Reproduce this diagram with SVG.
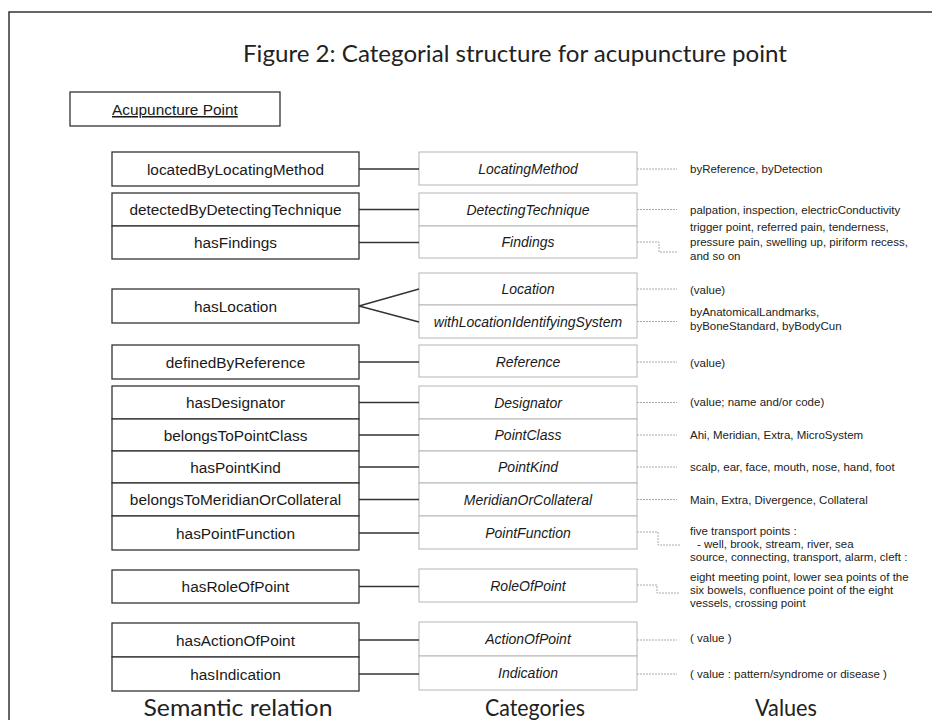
<svg xmlns="http://www.w3.org/2000/svg" width="932" height="720" viewBox="0 0 932 720">
<style>
.frame{fill:none;stroke:#333;stroke-width:1.5}
.rel rect{fill:#fff;stroke:#333;stroke-width:1.3}
.rel text{font-family:"Liberation Sans",Arial,sans-serif;font-size:15.4px;fill:#1a1a1a;text-anchor:middle}
.cat rect{fill:#fff;stroke:#b5b5b5;stroke-width:1}
.cat text{font-family:"Liberation Sans",Arial,sans-serif;font-size:14px;font-style:italic;fill:#1a1a1a;text-anchor:middle}
.val text{font-family:"Liberation Sans",Arial,sans-serif;font-size:11.5px;fill:#222}
.big{font-family:Lato,"Open Sans",sans-serif;font-size:24px;fill:#222}
.solid{fill:none;stroke:#333;stroke-width:1.3}
.dot{fill:none;stroke:#aaa;stroke-width:1;stroke-dasharray:2 1}
</style>
<rect width="932" height="720" fill="#fff"/>
<path class="frame" d="M9,720 V12 H932"/>
<text class="big" x="515" y="62" text-anchor="middle" textLength="544" lengthAdjust="spacingAndGlyphs">Figure 2: Categorial structure for acupuncture point</text>

<g id="acupuncture-point" class="rel">
<rect x="70" y="92" width="210" height="34"/>
<text x="112" y="115" style="text-anchor:start;text-decoration:underline">Acupuncture Point</text>
</g>

<!-- Semantic relations -->
<g id="rel-locatedByLocatingMethod" class="rel"><rect x="112" y="152" width="247" height="34"/><text x="235.5" y="174.5">locatedByLocatingMethod</text></g>
<g id="rel-detectedByDetectingTechnique" class="rel"><rect x="112" y="193" width="247" height="33"/><text x="235.5" y="215">detectedByDetectingTechnique</text></g>
<g id="rel-hasFindings" class="rel"><rect x="112" y="226" width="247" height="33"/><text x="235.5" y="248">hasFindings</text></g>
<g id="rel-hasLocation" class="rel"><rect x="112" y="289" width="247" height="34"/><text x="235.5" y="311.5">hasLocation</text></g>
<g id="rel-definedByReference" class="rel"><rect x="112" y="345" width="247" height="34"/><text x="235.5" y="367.5">definedByReference</text></g>
<g id="rel-hasDesignator" class="rel"><rect x="112" y="386" width="247" height="33"/><text x="235.5" y="408">hasDesignator</text></g>
<g id="rel-belongsToPointClass" class="rel"><rect x="112" y="419" width="247" height="32"/><text x="235.5" y="440.5">belongsToPointClass</text></g>
<g id="rel-hasPointKind" class="rel"><rect x="112" y="451" width="247" height="32"/><text x="235.5" y="472.5">hasPointKind</text></g>
<g id="rel-belongsToMeridianOrCollateral" class="rel"><rect x="112" y="483" width="247" height="33"/><text x="235.5" y="505">belongsToMeridianOrCollateral</text></g>
<g id="rel-hasPointFunction" class="rel"><rect x="112" y="516" width="247" height="34"/><text x="235.5" y="538.5">hasPointFunction</text></g>
<g id="rel-hasRoleOfPoint" class="rel"><rect x="112" y="570" width="247" height="33"/><text x="235.5" y="592">hasRoleOfPoint</text></g>
<g id="rel-hasActionOfPoint" class="rel"><rect x="112" y="623" width="247" height="34"/><text x="235.5" y="645.5">hasActionOfPoint</text></g>
<g id="rel-hasIndication" class="rel"><rect x="112" y="657" width="247" height="34"/><text x="235.5" y="679.5">hasIndication</text></g>

<!-- Categories -->
<g id="cat-LocatingMethod" class="cat"><rect x="419" y="152" width="218" height="33"/><text x="528" y="174">LocatingMethod</text></g>
<g id="cat-DetectingTechnique" class="cat"><rect x="419" y="193" width="218" height="33"/><text x="528" y="214.5">DetectingTechnique</text></g>
<g id="cat-Findings" class="cat"><rect x="419" y="226" width="218" height="32"/><text x="528" y="247">Findings</text></g>
<g id="cat-Location" class="cat"><rect x="419" y="273" width="218" height="32"/><text x="528" y="294">Location</text></g>
<g id="cat-withLocationIdentifyingSystem" class="cat"><rect x="419" y="305" width="218" height="33"/><text x="528" y="326.5">withLocationIdentifyingSystem</text></g>
<g id="cat-Reference" class="cat"><rect x="419" y="345" width="218" height="32"/><text x="528" y="366.5">Reference</text></g>
<g id="cat-Designator" class="cat"><rect x="419" y="386" width="218" height="33"/><text x="528" y="407.5">Designator</text></g>
<g id="cat-PointClass" class="cat"><rect x="419" y="419" width="218" height="32"/><text x="528" y="440">PointClass</text></g>
<g id="cat-PointKind" class="cat"><rect x="419" y="451" width="218" height="32"/><text x="528" y="472">PointKind</text></g>
<g id="cat-MeridianOrCollateral" class="cat"><rect x="419" y="483" width="218" height="33"/><text x="528" y="504.5">MeridianOrCollateral</text></g>
<g id="cat-PointFunction" class="cat"><rect x="419" y="516" width="218" height="33"/><text x="528" y="537.5">PointFunction</text></g>
<g id="cat-RoleOfPoint" class="cat"><rect x="419" y="569" width="218" height="33"/><text x="528" y="590.5">RoleOfPoint</text></g>
<g id="cat-ActionOfPoint" class="cat"><rect x="419" y="622" width="218" height="34"/><text x="528" y="644">ActionOfPoint</text></g>
<g id="cat-Indication" class="cat"><rect x="419" y="656" width="218" height="34"/><text x="528" y="678">Indication</text></g>

<!-- Values -->
<g id="values" class="val">
<text x="690" y="173">byReference, byDetection</text>
<text x="690" y="214">palpation, inspection, electricConductivity</text>
<text x="690" y="231">trigger point, referred pain, tenderness,</text>
<text x="690" y="245.5">pressure pain, swelling up, piriform recess,</text>
<text x="690" y="260">and so on</text>
<text x="690" y="294">(value)</text>
<text x="690" y="316">byAnatomicalLandmarks,</text>
<text x="690" y="329.5">byBoneStandard, byBodyCun</text>
<text x="690" y="367">(value)</text>
<text x="690" y="406">(value; name and/or code)</text>
<text x="690" y="439">Ahi, Meridian, Extra, MicroSystem</text>
<text x="690" y="471">scalp, ear, face, mouth, nose, hand, foot</text>
<text x="690" y="504">Main, Extra, Divergence, Collateral</text>
<text x="690" y="535">five transport points :</text>
<text x="697" y="548">- well, brook, stream, river, sea</text>
<text x="690" y="561">source, connecting, transport, alarm, cleft :</text>
<text x="690" y="581">eight meeting point, lower sea points of the</text>
<text x="690" y="594">six bowels, confluence point of the eight</text>
<text x="690" y="607">vessels, crossing point</text>
<text x="690" y="642">( value )</text>
<text x="690" y="678">( value : pattern/syndrome or disease )</text>
</g>

<!-- Connectors -->
<g id="connectors">
<path class="solid" d="M359,169H419 M359,209.5H419 M359,242.5H419 M359,306L419,289 M359,306L419,322 M359,362H419 M359,402.5H419 M359,435H419 M359,467H419 M359,499.5H419 M359,533H419 M359,586.5H419 M359,640H419 M359,674H419"/>
<path class="dot" d="M637,169H677 M637,209.5H677 M637,242H659V252H678 M637,289H677 M637,321.5H677 M637,362H677 M637,402.5H677 M637,435H677 M637,467H677 M637,499.5H677 M637,532H658V545H680 M637,585H657V593H680 M637,640H677 M637,674H677"/>
</g>

<text class="big" x="238" y="716" text-anchor="middle" textLength="189" lengthAdjust="spacingAndGlyphs">Semantic relation</text>
<text class="big" x="535" y="716" text-anchor="middle" textLength="100" lengthAdjust="spacingAndGlyphs">Categories</text>
<text class="big" x="786" y="716" text-anchor="middle" textLength="62" lengthAdjust="spacingAndGlyphs">Values</text>
</svg>
